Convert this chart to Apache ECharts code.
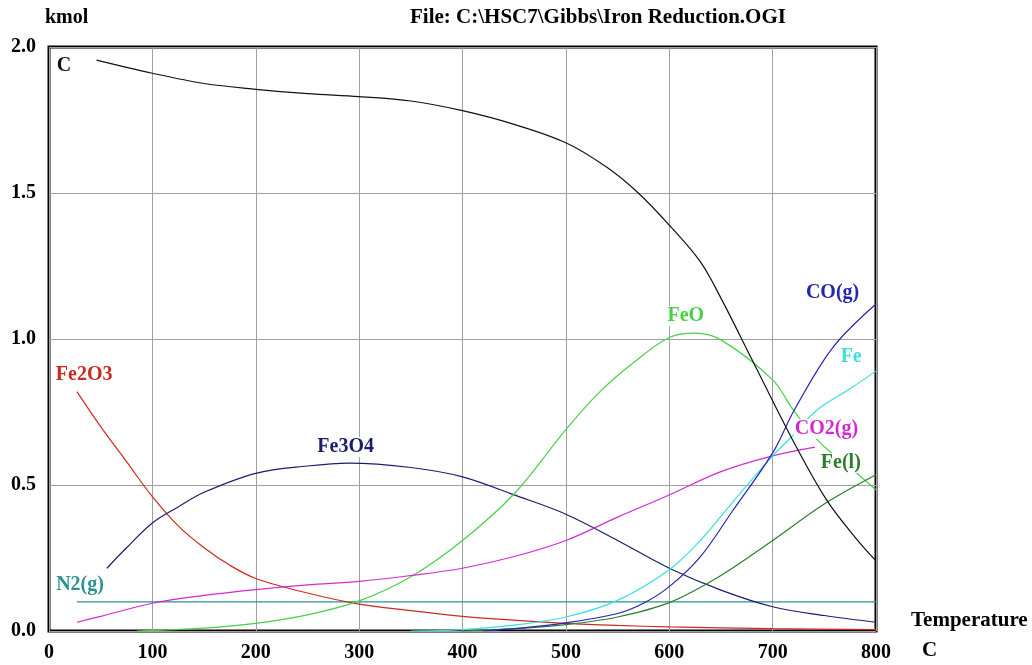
<!DOCTYPE html>
<html>
<head>
<meta charset="utf-8">
<script src="https://cdn.jsdelivr.net/npm/echarts@6/dist/echarts.min.js"></script>
<style>
  html, body { margin: 0; padding: 0; background: #fff; }
  #chart { width: 1032px; height: 665px; }
</style>
</head>
<body>
<div id="chart"></div>
<script>
// temperature (C) / amount (kmol), one pair of arrays per species
const cTemp = [46, 100, 150, 200, 250, 300, 350, 400, 450, 500, 540, 570, 600, 630, 650, 680, 720, 752, 780, 800]
const cKmol = [1.955, 1.91, 1.875, 1.855, 1.84, 1.83, 1.815, 1.782, 1.735, 1.672, 1.587, 1.5, 1.39, 1.265, 1.14, 0.93, 0.65, 0.45, 0.32, 0.24]

const fe2o3Temp = [27, 50, 75, 100, 125, 150, 175, 200, 250, 300, 350, 400, 450, 500, 550, 600, 700, 800]
const fe2o3Kmol = [0.82, 0.7, 0.58, 0.46, 0.36, 0.285, 0.225, 0.18, 0.13, 0.092, 0.07, 0.05, 0.037, 0.026, 0.019, 0.014, 0.008, 0.005]

const fe3o4Temp = [56, 75, 100, 125, 150, 200, 250, 290, 350, 400, 450, 500, 550, 600, 650, 700, 750, 800]
const fe3o4Kmol = [0.215, 0.285, 0.37, 0.425, 0.475, 0.54, 0.565, 0.575, 0.56, 0.528, 0.466, 0.4, 0.31, 0.215, 0.14, 0.083, 0.053, 0.03]

const feoTemp = [85, 150, 200, 250, 300, 350, 400, 450, 500, 533, 565, 600, 625, 650, 700, 720, 746, 775, 800]
const feoKmol = [0.0, 0.01, 0.026, 0.055, 0.103, 0.186, 0.31, 0.47, 0.69, 0.82, 0.918, 1.005, 1.02, 0.997, 0.86, 0.757, 0.644, 0.56, 0.483]

const co2Temp = [27, 50, 100, 150, 200, 250, 300, 350, 400, 450, 500, 550, 600, 650, 700, 741]
const co2Kmol = [0.03, 0.05, 0.095, 0.122, 0.142, 0.158, 0.17, 0.19, 0.215, 0.255, 0.31, 0.39, 0.466, 0.546, 0.6, 0.63]

const coTemp = [420, 450, 500, 550, 575, 600, 630, 661, 700, 721, 758, 800]
const coKmol = [0.0, 0.008, 0.028, 0.06, 0.095, 0.152, 0.254, 0.41, 0.61, 0.757, 0.97, 1.12]

const feTemp = [350, 400, 450, 500, 550, 600, 630, 661, 700, 717, 743, 775, 800]
const feKmol = [0.0, 0.005, 0.02, 0.048, 0.105, 0.21, 0.31, 0.44, 0.6, 0.66, 0.757, 0.83, 0.89]

const felTemp = [400, 450, 500, 550, 600, 650, 700, 750, 800]
const felKmol = [0.0, 0.008, 0.022, 0.048, 0.097, 0.19, 0.31, 0.435, 0.535]

const n2Temp = [27, 800]
const n2Kmol = [0.1, 0.1]

const xTicks = [0, 100, 200, 300, 400, 500, 600, 700, 800]
const yTicks = [0, 0.5, 1.0, 1.5, 2.0]

const FONT = '"Liberation Serif", "DejaVu Serif", serif'

const pairs = (xs, ys) => xs.map((x, i) => [x, ys[i]])

// one curve + its name label (label placed in data units)
const makeSeries = (name, temps, vals, color, labelAt) => ({
  name,
  type: 'line',
  data: pairs(temps, vals),
  smooth: 0.35,
  showSymbol: false,
  symbol: 'none',
  lineStyle: { color, width: 1.2 },
  itemStyle: { color },
  silent: true,
  markPoint: {
    silent: true,
    symbol: 'rect',
    symbolSize: 0,
    z: 10,
    data: [{
      coord: labelAt,
      label: {
        show: true,
        formatter: name,
        position: 'inside',
        color,
        fontFamily: FONT,
        fontWeight: 'bold',
        fontSize: 20,
        backgroundColor: '#fff',
        padding: [0, 1]
      }
    }]
  }
})

const chart = echarts.init(document.getElementById('chart'))

const option = {
  backgroundColor: '#fff',
  animation: false,
  grid: {
    left: 49,
    right: 156,
    top: 47,
    bottom: 34,
    show: true,
    borderColor: '#000',
    borderWidth: 3,
    backgroundColor: 'transparent'
  },
  xAxis: {
    type: 'value',
    min: 0,
    max: 800,
    interval: 100,
    axisLine: { show: false },
    axisTick: { show: false },
    axisLabel: {
      margin: 12,
      color: '#000',
      fontFamily: FONT,
      fontWeight: 'bold',
      fontSize: 20,
      formatter: v => (xTicks.includes(v) ? String(v) : '')
    },
    splitLine: { show: true, lineStyle: { color: '#a0a0a0', width: 1 } }
  },
  yAxis: {
    type: 'value',
    min: 0,
    max: 2,
    interval: 0.5,
    axisLine: { show: false },
    axisTick: { show: false },
    axisLabel: {
      margin: 13,
      color: '#000',
      fontFamily: FONT,
      fontWeight: 'bold',
      fontSize: 20,
      formatter: v => (yTicks.includes(v) ? v.toFixed(1) : '')
    },
    splitLine: { show: true, lineStyle: { color: '#a0a0a0', width: 1 } }
  },
  graphic: [
    {
      type: 'text', left: 45, top: 8,
      style: { text: 'kmol', font: 'bold 20px ' + FONT, fill: '#000' }
    },
    {
      type: 'text', left: 410, top: 7,
      style: { text: 'File: C:\\HSC7\\Gibbs\\Iron Reduction.OGI', font: 'bold 21px ' + FONT, fill: '#000' }
    },
    {
      type: 'text', left: 911, top: 610,
      style: { text: 'Temperature', font: 'bold 21px ' + FONT, fill: '#000' }
    },
    {
      type: 'text', left: 922, top: 640,
      style: { text: 'C', font: 'bold 21px ' + FONT, fill: '#000' }
    }
  ],
  series: [
    makeSeries('N2(g)', n2Temp, n2Kmol, '#2b9292', [30, 0.158]),
    makeSeries('Fe2O3', fe2o3Temp, fe2o3Kmol, '#cc2a1e', [34, 0.877]),
    makeSeries('Fe3O4', fe3o4Temp, fe3o4Kmol, '#1c1c70', [287, 0.63]),
    makeSeries('FeO', feoTemp, feoKmol, '#48d048', [616, 1.079]),
    makeSeries('CO2(g)', co2Temp, co2Kmol, '#d22ad2', [752, 0.692]),
    makeSeries('Fe(l)', felTemp, felKmol, '#2e7d2e', [766, 0.575]),
    makeSeries('Fe', feTemp, feKmol, '#3cdede', [776, 0.938]),
    makeSeries('CO(g)', coTemp, coKmol, '#2424b4', [758, 1.158]),
    makeSeries('C', cTemp, cKmol, '#111111', [14.5, 1.935])
  ]
}

chart.setOption(option)
</script>
</body>
</html>
